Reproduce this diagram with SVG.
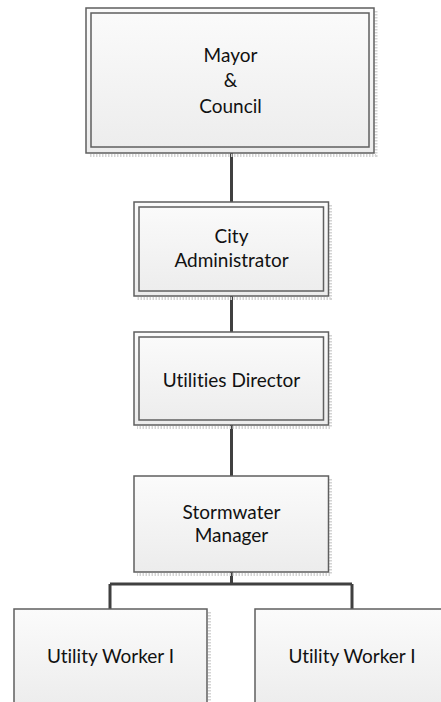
<svg xmlns="http://www.w3.org/2000/svg" width="441" height="702" viewBox="0 0 441 702">
  <style>
    .box { fill: url(#boxFill); stroke: #5f5f5f; stroke-width: 1.5; }
    .inner { fill: none; stroke: #5f5f5f; stroke-width: 1.5; }
    .shadow { fill: none; stroke: #d4d4d4; stroke-width: 3; stroke-dasharray: 1.5 1.5; }
    .label { font-family: Lato, "Open Sans", "Liberation Sans", sans-serif; font-size: 19px; fill: #111; text-anchor: middle; font-variant-ligatures: none; }
    .link { fill: none; stroke: #404040; stroke-width: 3; }
  </style>
  <defs>
    <linearGradient id="boxFill" x1="0" y1="0" x2="0" y2="1">
      <stop offset="0" stop-color="#fbfbfb"/>
      <stop offset="1" stop-color="#ececec"/>
    </linearGradient>
  </defs>
  <rect width="441" height="702" fill="#ffffff"/>

  <g id="connectors">
    <path class="link" d="M231.5 153 V202"/>
    <path class="link" d="M231.5 296 V332"/>
    <path class="link" d="M231.5 425 V476"/>
    <path class="link" d="M231.5 572 V584 M110 584 H352 M110 584 V609 M352 584 V609"/>
  </g>

  <g id="mayor-council">
    <path class="shadow" d="M376 11 V155.5 H89"/>
    <rect class="box" x="86" y="8" width="288" height="145"/>
    <rect class="inner" x="91" y="13" width="278" height="134"/>
    <text class="label" x="230.5" y="62">Mayor</text>
    <text class="label" x="230.5" y="87">&amp;</text>
    <text class="label" x="230.5" y="113">Council</text>
  </g>

  <g id="city-administrator">
    <path class="shadow" d="M330.5 205 V298.5 H137"/>
    <rect class="box" x="134" y="202" width="194.5" height="94"/>
    <rect class="inner" x="139" y="207" width="184.5" height="84"/>
    <text class="label" x="231.5" y="243">City</text>
    <text class="label" x="231.5" y="267">Administrator</text>
  </g>

  <g id="utilities-director">
    <path class="shadow" d="M330.5 335 V427.5 H137"/>
    <rect class="box" x="134" y="332" width="194.5" height="93"/>
    <rect class="inner" x="139" y="337" width="184.5" height="83"/>
    <text class="label" x="231.5" y="387">Utilities Director</text>
  </g>

  <g id="stormwater-manager">
    <path class="shadow" d="M330.5 479 V574.5 H137"/>
    <rect class="box" x="134" y="476" width="194.5" height="96"/>
    <text class="label" x="231.5" y="519">Stormwater</text>
    <text class="label" x="231.5" y="542">Manager</text>
  </g>

  <g id="utility-worker-1">
    <path class="shadow" d="M209.5 612 V702"/>
    <rect class="box" x="14" y="609" width="193" height="100"/>
    <text class="label" x="110.5" y="663">Utility Worker I</text>
  </g>

  <g id="utility-worker-2">
    <rect class="box" x="255" y="609" width="200" height="100"/>
    <text class="label" x="352" y="663">Utility Worker I</text>
  </g>
</svg>
